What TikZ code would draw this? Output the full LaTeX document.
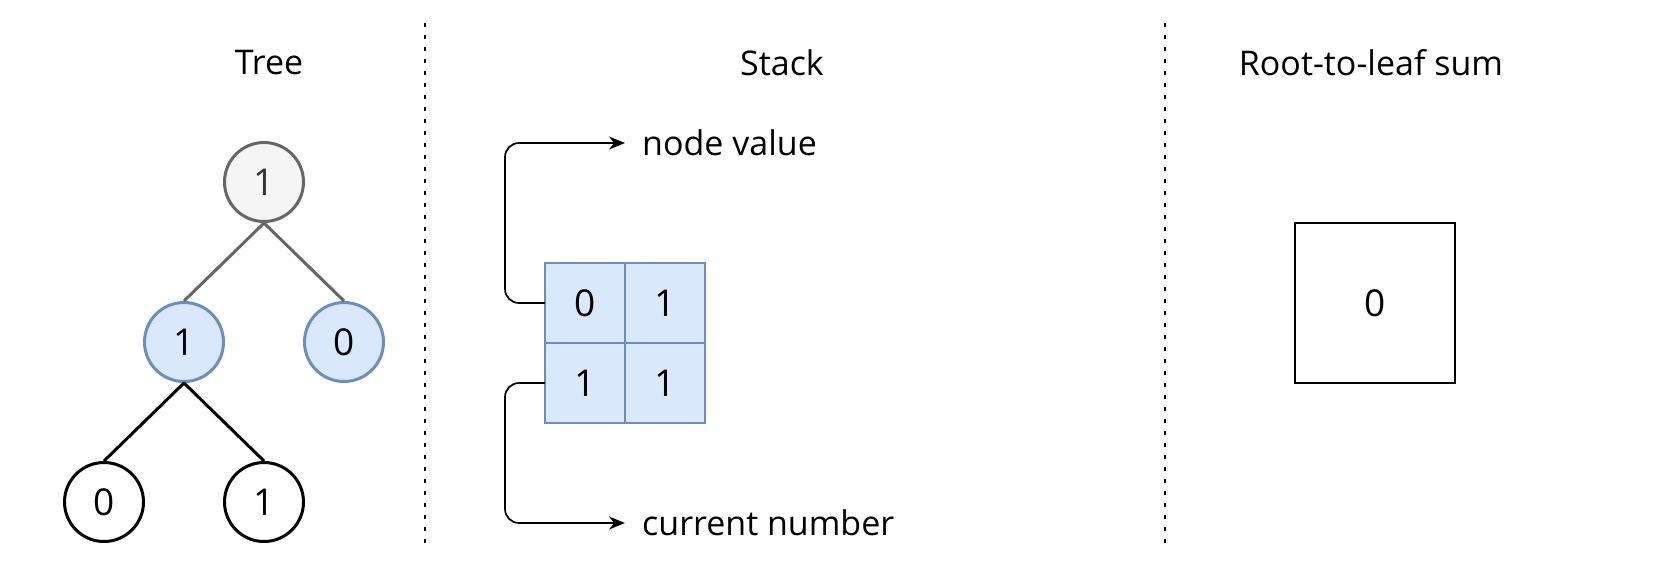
\documentclass[tikz,border=0pt]{standalone}
\usepackage{fontspec}
\setmainfont{Open Sans}
\usepackage{xcolor}
\usetikzlibrary{arrows.meta,positioning}
\definecolor{bluefill}{HTML}{DAE8FC}
\definecolor{blueline}{HTML}{6C8EBF}
\definecolor{greyfill}{HTML}{F5F5F5}
\definecolor{greyline}{HTML}{666666}
\definecolor{greytext}{HTML}{333333}

\begin{document}
\begin{tikzpicture}[x=1pt, y=-1pt,
    treenode/.style={circle, draw=black, line width=3pt, minimum size=79pt,
      inner sep=0pt, font=\fontsize{37}{40}\selectfont},
    rootnode/.style={treenode, draw=greyline, fill=greyfill, text=greytext},
    midnode/.style={treenode, draw=blueline, fill=bluefill},
    cell/.style={draw=blueline, fill=bluefill, line width=1.5pt, minimum size=80pt,
      inner sep=0pt, outer sep=0pt, font=\fontsize{37}{40}\selectfont},
    sumbox/.style={draw=black, line width=2pt, minimum size=160pt, inner sep=0pt,
      font=\fontsize{37}{40}\selectfont},
    title/.style={font=\fontsize{34}{38}\selectfont},
    note/.style={anchor=west, inner xsep=17pt, font=\fontsize{34}{38}\selectfont},
    link/.style={-{Stealth[length=16pt, width=13pt]}, line width=1.7pt,
      rounded corners=14pt},
    edge/.style={line width=3pt},
    divider/.style={line width=2pt, dash pattern=on 4pt off 8pt}]
\useasboundingbox (0,0) rectangle (1672,576);
% titles
\node[title] (ttree) at (269,63) {Tree};
\node[title] (tstack) at (782,63) {Stack};
\node[title] (tsum) at (1371,63) {Root-to-leaf sum};
% dividers
\coordinate (d1a) at (425,23);
\coordinate (d1b) at (425,545);
\coordinate (d2a) at (1165,23);
\coordinate (d2b) at (1165,545);
\draw[divider] (d1a) -- (d1b);
\draw[divider] (d2a) -- (d2b);
% tree
\node[rootnode] (root) at (264,182) {1};
\node[midnode] (left) at (184,342) {1};
\node[midnode] (right) at (344,342) {0};
\node[treenode] (leafa) at (104,502) {0};
\node[treenode] (leafb) at (264,502) {1};
\draw[edge, draw=greyline] (root.south) -- (left.north);
\draw[edge, draw=greyline] (root.south) -- (right.north);
\draw[edge] (left.south) -- (leafa.north);
\draw[edge] (left.south) -- (leafb.north);
% stack
\node[cell] (c00) at (585,303) {0};
\node[cell, right=0pt of c00] (c01) {1};
\node[cell, below=0pt of c00] (c10) {1};
\node[cell, right=0pt of c10] (c11) {1};
\node[note] (val) at (625,143) {node value};
\node[note] (num) at (625,523) {current number};
\draw[link] (c00.west) -- ++(-40,0) |- (val.west);
\draw[link] (c10.west) -- ++(-40,0) |- (num.west);
% sum
\node[sumbox] (sum) at (1375,303) {0};
\end{tikzpicture}
\end{document}
